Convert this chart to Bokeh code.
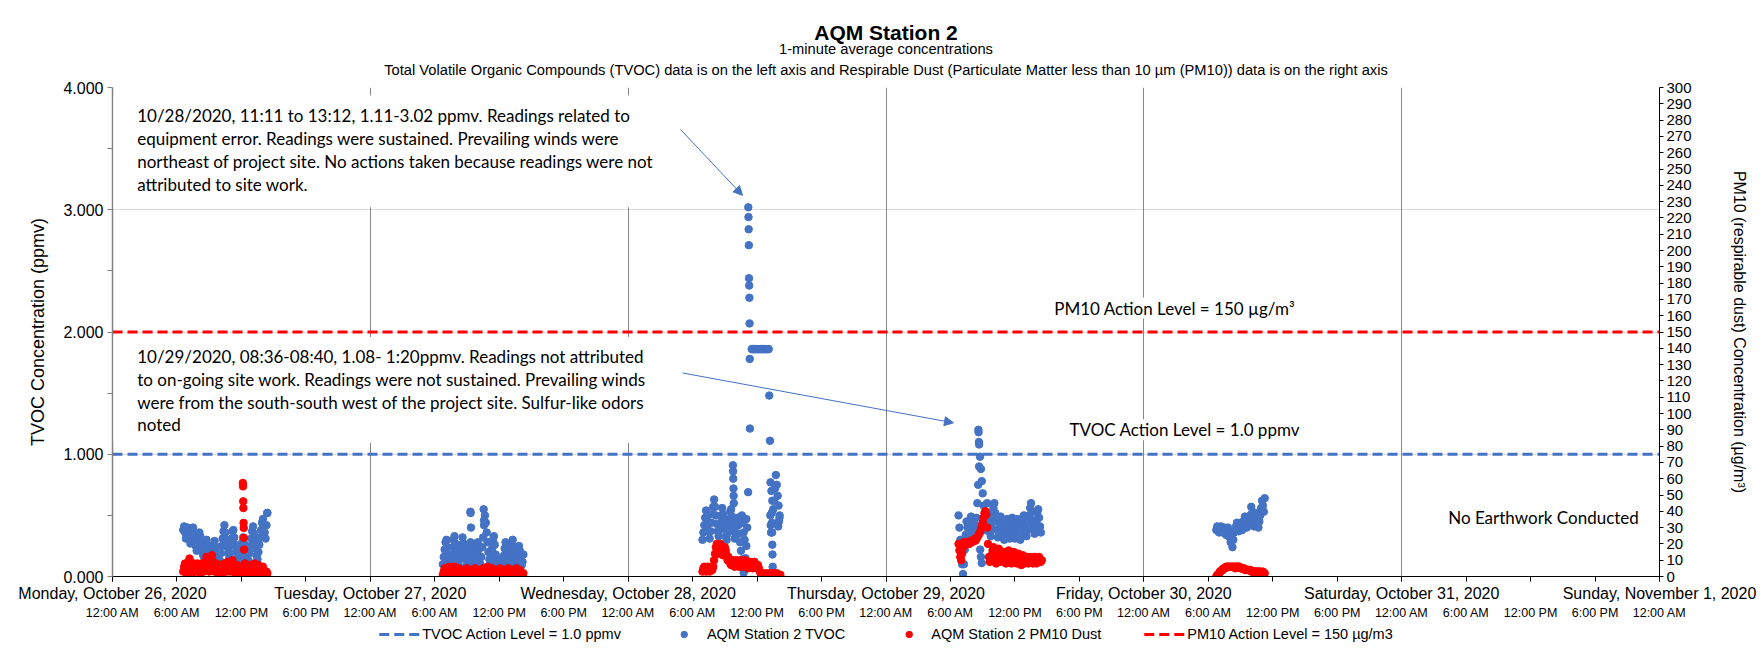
import pandas as pd
from bokeh.plotting import figure
from bokeh.layouts import column
from bokeh.models import (Range1d, LinearAxis, FixedTicker, NumeralTickFormatter, Label, Arrow,
                          NormalHead, Legend, LegendItem, Title, BoxAnnotation, Grid, ColumnDataSource)
from bokeh.embed import file_html
from bokeh.resources import INLINE

# ------------------------------------------------------------------ data
day_labels = ["Monday, October 26, 2020", "Tuesday, October 27, 2020", "Wednesday, October 28, 2020",
              "Thursday, October 29, 2020", "Friday, October 30, 2020", "Saturday, October 31, 2020",
              "Sunday, November 1, 2020"]
hour_labels = ["12:00 AM", "6:00 AM", "12:00 PM", "6:00 PM"]

tvoc_action = 1.0
pm10_action = 150

# 5-minute readings (start time, values)
mon_tvoc_start = "2020-10-26 06:35"
mon_tvoc = [0.38, 0.41, 0.36, 0.31, 0.35, 0.40, 0.36, 0.31, 0.27, 0.32, 0.37, 0.40,
            0.35, 0.30, 0.25, 0.21, 0.26, 0.31, 0.36, 0.33, 0.28, 0.23, 0.18, 0.16,
            0.20, 0.25, 0.30, 0.26, 0.21, 0.16, 0.12, 0.10, 0.15, 0.20, 0.25, 0.29,
            0.24, 0.19, 0.14, 0.09, 0.08, 0.13, 0.19, 0.25, 0.31, 0.37, 0.42, 0.36,
            0.30, 0.24, 0.19, 0.14, 0.19, 0.25, 0.31, 0.37, 0.38, 0.32, 0.26, 0.20,
            0.15, 0.10, 0.08, 0.13, 0.18, 0.23, 0.28, 0.32, 0.27, 0.21, 0.15, 0.10,
            0.08, 0.13, 0.19, 0.25, 0.31, 0.37, 0.41, 0.35, 0.29, 0.23, 0.17, 0.14,
            0.20, 0.26, 0.32, 0.38, 0.44, 0.47, 0.42, 0.36, 0.31, 0.42, 0.52]
mon_pm10_start = "2020-10-26 06:35"
mon_pm10 = [3, 6, 8, 5, 2, 5, 8, 11, 7, 4, 2, 5, 8, 6, 3, 5, 8, 6, 3, 2, 5, 8, 5, 3,
            6, 9, 12, 9, 5, 3, 7, 11, 13, 9, 5, 3, 5, 8, 5, 2, 4, 7, 5, 3, 2, 5, 8, 6,
            3, 6, 9, 6, 3, 5, 8, 10, 7, 4, 2, 4, 7, 5, 2, 1, 3, 6, 4, 2, 5, 8, 6, 3,
            1, 4, 7, 5, 2, 1, 3, 6, 8, 5, 2, 4, 7, 5, 2, 1, 3, 6, 4, 2, 1, 3, 2]

tue_tvoc_start = "2020-10-27 06:45"
tue_tvoc = [0.10, 0.16, 0.22, 0.28, 0.30, 0.24, 0.18, 0.12, 0.07, 0.12, 0.18, 0.24,
            0.30, 0.33, 0.27, 0.21, 0.15, 0.09, 0.08, 0.14, 0.20, 0.26, 0.32, 0.27,
            0.21, 0.15, 0.09, 0.08, 0.14, 0.20, 0.26, 0.28, 0.22, 0.16, 0.10, 0.08,
            0.13, 0.19, 0.25, 0.28, 0.22, 0.16, 0.10, 0.16, 0.24, 0.32, 0.42, 0.50,
            0.44, 0.36, 0.28, 0.20, 0.14, 0.10, 0.16, 0.23, 0.30, 0.33, 0.26, 0.18,
            0.12, 0.08, 0.06, 0.10, 0.14, 0.09, 0.06, 0.11, 0.17, 0.23, 0.28, 0.22,
            0.16, 0.10, 0.08, 0.14, 0.20, 0.26, 0.30, 0.24, 0.18, 0.12, 0.08, 0.13,
            0.19, 0.25, 0.21, 0.15, 0.09, 0.12, 0.18]
tue_pm10_start = "2020-10-27 06:45"
tue_pm10 = [1, 3, 5, 3, 1, 3, 5, 6, 4, 2, 0, 2, 4, 6, 4, 2, 1, 3, 5, 3, 1, 0, 2, 4,
            2, 1, 3, 5, 3, 1, 0, 2, 4, 2, 1, 3, 5, 3, 1, 2, 4, 2, 0, 2, 4, 5, 3, 1,
            2, 4, 6, 4, 2, 1, 3, 5, 3, 1, 0, 2, 4, 2, 1, 3, 5, 3, 1, 0, 2, 4, 2, 1,
            3, 5, 3, 1, 2, 4, 2, 0, 1, 3, 5, 3, 1, 2, 4, 2, 1, 0, 2]

wed_tvoc_start = "2020-10-28 06:55"
wed_tvoc = [0.30, 0.36, 0.42, 0.48, 0.54, 0.49, 0.43, 0.37, 0.31, 0.37, 0.44, 0.51,
            0.57, 0.63, 0.57, 0.50, 0.43, 0.37, 0.33, 0.38, 0.44, 0.50, 0.56, 0.51,
            0.45, 0.39, 0.33, 0.30, 0.35, 0.41, 0.47, 0.53, 0.55, 0.49, 0.43, 0.37,
            0.31, 0.36, 0.42, 0.48, 0.42, 0.35, 0.28, 0.21, 0.14, 0.08, 0.03, 0.08,
            0.15, 0.25, 0.40]
wed_flat_start = "2020-10-28 11:30"
wed_flat = [1.86, 1.86, 1.86, 1.86, 1.86, 1.86, 1.86, 1.86, 1.86, 1.86,
            1.86, 1.86, 1.86, 1.86, 1.86, 1.86, 1.86, 1.86, 1.86, 1.86]
wed2_tvoc_start = "2020-10-28 13:15"
wed2_tvoc = [0.77, 0.70, 0.62, 0.55, 0.62, 0.72, 0.83, 0.75, 0.66, 0.58, 0.48]
wed_pm10_start = "2020-10-28 06:55"
wed_pm10 = [3, 5, 6, 4, 3, 5, 6, 4, 3, 5, 6, 4, 6, 10, 14, 18, 20, 17,
            14, 17, 20, 19, 16, 13, 15, 18, 16, 13, 10, 12, 10, 8, 7, 9, 10, 8,
            6, 8, 10, 9, 7, 6, 8, 10, 8, 6, 7, 9, 10, 8, 6, 5, 7, 9,
            8, 6, 5, 7, 9, 8, 6, 5, 7, 5, 3, 2, 1, 2, 1, 0, 1, 2,
            1, 0, 1, 2, 1, 0, 1, 2, 1, 0, 1, 2, 1, 0, 1, 1]

thu_tvoc_start = "2020-10-29 06:45"
thu_tvoc = [0.50, 0.40, 0.30, 0.20, 0.10, 0.02, 0.10, 0.22, 0.34, 0.45, 0.40, 0.34,
            0.38, 0.44, 0.49, 0.43, 0.37, 0.32, 0.36, 0.42, 0.48, 0.60, 0.75, 0.90,
            0.98, 0.88, 0.78, 0.68, 0.58, 0.48, 0.38, 0.45, 0.60, 0.52, 0.44, 0.36,
            0.33, 0.40, 0.48, 0.56, 0.60, 0.52, 0.45, 0.38, 0.32, 0.37, 0.43, 0.49,
            0.44, 0.38, 0.32, 0.30, 0.35, 0.41, 0.47, 0.42, 0.36, 0.31, 0.36, 0.42,
            0.48, 0.43, 0.37, 0.31, 0.35, 0.41, 0.47, 0.42, 0.36, 0.30, 0.35, 0.40,
            0.46, 0.50, 0.44, 0.38, 0.33, 0.38, 0.44, 0.50, 0.56, 0.60, 0.53, 0.46,
            0.40, 0.35, 0.40, 0.46, 0.52, 0.55, 0.48, 0.41, 0.36]
thu_pm10_start = "2020-10-29 06:45"
thu_pm10 = [20, 16, 12, 10, 14, 18, 21, 19, 20, 21, 20, 21, 20, 21, 22, 21, 22, 22,
            23, 22, 23, 24, 25, 26, 27, 29, 31, 33, 36, 39, 40, 38, 30, 20, 12, 9,
            10, 13, 16, 18, 15, 11, 8, 11, 14, 17, 14, 11, 9, 12, 15, 13, 10, 8,
            11, 14, 16, 13, 10, 8, 10, 13, 15, 12, 9, 8, 11, 14, 12, 9, 7, 10,
            13, 11, 8, 10, 12, 10, 8, 10, 12, 11, 9, 8, 10, 12, 10, 8, 9, 11,
            12, 10, 9, 10]

fri_tvoc_start = "2020-10-30 06:45"
fri_tvoc = [0.38, 0.41, 0.38, 0.36, 0.39, 0.41, 0.38, 0.36, 0.39, 0.40, 0.37, 0.34,
            0.37, 0.40, 0.36, 0.32, 0.28, 0.30, 0.24, 0.30, 0.36, 0.38, 0.41, 0.44,
            0.40, 0.37, 0.41, 0.44, 0.40, 0.38, 0.42, 0.46, 0.49, 0.44, 0.40, 0.45,
            0.49, 0.44, 0.50, 0.57, 0.52, 0.46, 0.41, 0.46, 0.52, 0.48, 0.43, 0.40,
            0.45, 0.50, 0.56, 0.62, 0.58, 0.53, 0.64]
fri_pm10_start = "2020-10-30 06:45"
fri_pm10 = [0, 1, 1, 2, 3, 3, 4, 4, 5, 5, 5, 6, 6, 6, 6, 6, 6, 6, 6, 6, 6, 5, 6, 6,
            6, 6, 6, 5, 5, 5, 5, 5, 4, 4, 4, 4, 4, 4, 4, 3, 3, 3, 3, 3, 3, 3, 2, 3,
            3, 3, 2, 2, 3, 2, 2]

# individual one-minute readings (spikes, columns)
tvoc_extra_time = ["2020-10-26 14:24", "2020-10-27 09:19", "2020-10-27 09:20", "2020-10-27 09:22",
                   "2020-10-27 10:33", "2020-10-27 10:35",
                   "2020-10-28 09:45", "2020-10-28 09:46", "2020-10-28 09:47", "2020-10-28 09:48",
                   "2020-10-28 09:49", "2020-10-28 09:50", "2020-10-28 10:35", "2020-10-28 10:40",
                   "2020-10-28 10:45", "2020-10-28 10:50", "2020-10-28 11:00", "2020-10-28 11:10",
                   "2020-10-28 11:11", "2020-10-28 11:12", "2020-10-28 11:13", "2020-10-28 11:14",
                   "2020-10-28 11:15", "2020-10-28 11:16", "2020-10-28 11:17", "2020-10-28 11:18",
                   "2020-10-28 11:19", "2020-10-28 11:20", "2020-10-28 13:08", "2020-10-28 13:12",
                   "2020-10-28 13:14", "2020-10-28 13:16", "2020-10-28 13:18",
                   "2020-10-28 13:22", "2020-10-28 13:23", "2020-10-28 13:24", "2020-10-28 13:25",
                   "2020-10-28 13:26", "2020-10-28 13:27", "2020-10-28 13:28",
                   "2020-10-28 13:58", "2020-10-28 14:02", "2020-10-28 14:06",
                   "2020-10-29 08:36", "2020-10-29 08:37", "2020-10-29 08:39", "2020-10-29 08:40",
                   "2020-10-29 08:46", "2020-10-29 08:50", "2020-10-29 08:55"]
tvoc_extra = [0.52, 0.53, 0.52, 0.40, 0.55, 0.46,
              0.91, 0.86, 0.80, 0.72, 0.66, 0.60, 0.50, 0.44, 0.36, 0.30, 0.47, 0.69,
              3.02, 2.94, 2.84, 2.71, 2.44, 2.38, 2.28, 2.07, 1.78, 1.21, 1.48, 1.11,
              0.50, 0.42, 0.36, 0.52, 0.44, 0.36, 0.26, 0.18, 0.08, 0.00,
              0.41, 0.45, 0.50,
              1.20, 1.18, 1.10, 1.08, 0.22, 0.16, 0.11]
pm10_extra_time = ["2020-10-26 12:08", "2020-10-26 12:09", "2020-10-26 12:10", "2020-10-26 12:11",
                   "2020-10-26 12:12", "2020-10-26 12:13", "2020-10-26 12:14", "2020-10-26 12:15"]
pm10_extra = [57.4, 55.3, 46.1, 42.0, 32.9, 29.8, 23.7, 16.5]

# ------------------------------------------------------------------ helpers
T0 = pd.Timestamp("2020-10-26 00:00")


def hrs(times):
    return list((pd.to_datetime(times) - T0) / pd.Timedelta(hours=1))


def seg(start, vals):
    t = pd.date_range(start, periods=len(vals), freq="5min")
    return hrs(t), list(vals)


tx, ty = [], []
for s, v in [(mon_tvoc_start, mon_tvoc), (tue_tvoc_start, tue_tvoc), (wed_tvoc_start, wed_tvoc),
             (wed_flat_start, wed_flat), (wed2_tvoc_start, wed2_tvoc), (thu_tvoc_start, thu_tvoc),
             (fri_tvoc_start, fri_tvoc)]:
    a, b = seg(s, v)
    tx += a
    ty += b
tx += hrs(tvoc_extra_time)
ty += tvoc_extra

px, py = [], []
for s, v in [(mon_pm10_start, mon_pm10), (tue_pm10_start, tue_pm10), (wed_pm10_start, wed_pm10),
             (thu_pm10_start, thu_pm10), (fri_pm10_start, fri_pm10)]:
    a, b = seg(s, v)
    px += a
    py += b
px += hrs(pm10_extra_time)
py += pm10_extra

tvoc_src = ColumnDataSource(dict(x=tx, y=ty))
pm_src = ColumnDataSource(dict(x=px, y=py))

# ------------------------------------------------------------------ figure
BLUE = "#4472C4"
RED = "#FF0000"
AX = "Liberation Sans"
NOTE = "Lato"
TXT = "#000000"
X0, X1 = 0, 144
DASH = "10 5"

p = figure(width=1762, height=622, x_range=Range1d(X0, X1), y_range=Range1d(0, 4),
           output_backend="svg", toolbar_location=None, x_axis_type=None, y_axis_type=None,
           title=None, min_border_left=112, min_border_right=103, min_border_top=87,
           min_border_bottom=45)
p.extra_y_ranges = {"pm": Range1d(0, 300)}
p.outline_line_color = None
p.background_fill_color = "white"
p.border_fill_color = "white"

day_ticks = list(range(0, 145, 24))
six_ticks = list(range(0, 145, 6))

p.add_layout(Grid(dimension=1, ticker=FixedTicker(ticks=[1, 2, 3, 4]), grid_line_color="#d9d9d9"))
p.add_layout(Grid(dimension=0, ticker=FixedTicker(ticks=day_ticks[1:-1]), grid_line_color="#868686"))

# left axis
yl = LinearAxis(ticker=FixedTicker(ticks=[0, 1, 2, 3, 4], minor_ticks=[0.5, 1.5, 2.5, 3.5]),
                formatter=NumeralTickFormatter(format="0.000"), axis_label="TVOC Concentration (ppmv)")
# right axis
yr = LinearAxis(y_range_name="pm", ticker=FixedTicker(ticks=list(range(0, 301, 10))),
                axis_label="PM10 (respirable dust) Concentration (\u00b5g/m\u00b3)")
# bottom axes
xd = LinearAxis(ticker=FixedTicker(ticks=day_ticks, minor_ticks=six_ticks),
                major_label_overrides={t: day_labels[i] for i, t in enumerate(day_ticks)})
xh = LinearAxis(ticker=FixedTicker(ticks=six_ticks),
                major_label_overrides={t: hour_labels[i % 4] for i, t in enumerate(six_ticks)})

for ax in (yl, yr, xd, xh):
    ax.major_label_text_font = AX
    ax.major_label_text_color = TXT
    ax.axis_label_text_font = AX
    ax.axis_label_text_font_style = "normal"
    ax.axis_label_text_color = TXT
    ax.major_tick_in = 0
    ax.minor_tick_in = 0

yl.major_label_text_font_size = "16px"
yl.axis_label_text_font_size = "18px"
yl.axis_line_color = "#808080"
yl.axis_line_width = 1.5
yl.major_tick_line_color = "#808080"
yl.minor_tick_line_color = "#808080"
yl.major_tick_out = 5
yl.minor_tick_out = 5
yl.major_label_standoff = 4
yl.axis_label_standoff = 12

yr.major_label_text_font_size = "15px"
yr.axis_label_text_font_size = "16px"
yr.axis_line_color = "#000000"
yr.major_tick_line_color = "#000000"
yr.major_tick_out = 4
yr.minor_tick_line_color = None
yr.major_label_standoff = 3
yr.axis_label_standoff = 36

xd.major_label_text_font_size = "16px"
xd.axis_line_color = "#000000"
xd.major_tick_line_color = "#000000"
xd.minor_tick_line_color = "#000000"
xd.major_tick_out = 5
xd.minor_tick_out = 5
xd.major_label_standoff = 3

xh.major_label_text_font_size = "12.5px"
xh.axis_line_color = None
xh.major_tick_line_color = None
xh.minor_tick_line_color = None
xh.major_tick_out = 0
xh.minor_tick_out = 0
xh.major_label_standoff = 1

p.add_layout(yl, "left")
p.add_layout(yr, "right")
p.add_layout(xd, "below")
p.add_layout(xh, "below")

# annotation boxes (white, hide gridlines)
p.add_layout(BoxAnnotation(left=0.1, right=53.8, top=3.935, bottom=3.02, fill_color="white",
                           fill_alpha=1, line_color=None))
p.add_layout(BoxAnnotation(left=0.1, right=53.8, top=1.959, bottom=1.094, fill_color="white",
                           fill_alpha=1, line_color=None))

# series
r_tl = p.line(x=[X0, X1], y=[tvoc_action, tvoc_action], line_color=BLUE, line_width=3, line_dash=DASH)
r_tv = p.scatter("x", "y", source=tvoc_src, size=7.5, color=BLUE)
r_pm = p.scatter("x", "y", source=pm_src, size=7.5, color=RED, y_range_name="pm")
r_pl = p.line(x=[X0, X1], y=[pm10_action, pm10_action], line_color=RED, line_width=3,
              line_dash=DASH, y_range_name="pm")

# notes
ann1 = ["10/28/2020, 11:11 to 13:12, 1.11-3.02 ppmv. Readings related to",
        "equipment error. Readings were sustained. Prevailing winds were",
        "northeast of project site. No actions taken because readings were not",
        "attributed to site work."]
ann2 = ["10/29/2020, 08:36-08:40, 1.08- 1:20ppmv.  Readings not attributed",
        "to on-going site work.  Readings were not sustained. Prevailing winds",
        "were from the south-south west of the project site. Sulfur-like odors",
        "noted"]
for i, line in enumerate(ann1):
    p.add_layout(Label(x=2.3, y=3.771 - i * 0.1878, text=line, text_font=NOTE, text_font_size="17px",
                       text_baseline="middle", text_color=TXT))
for i, line in enumerate(ann2):
    p.add_layout(Label(x=2.3, y=1.796 - i * 0.1845, text=line, text_font=NOTE, text_font_size="17px",
                       text_baseline="middle", text_color=TXT))

p.add_layout(Label(x=110.1, y=2.196, text="PM10 Action Level = 150 \u00b5g/m\u00b3", text_font=NOTE,
                   text_font_size="17px", text_align="right", text_baseline="middle", text_color=TXT,
                   background_fill_color="white"))
p.add_layout(Label(x=89.08, y=1.2, text="TVOC Action Level = 1.0 ppmv", text_font=NOTE,
                   text_font_size="17px", text_baseline="middle", text_color=TXT,
                   background_fill_color="white"))
p.add_layout(Label(x=124.33, y=0.484, text="No Earthwork Conducted", text_font=NOTE,
                   text_font_size="17px", text_baseline="middle", text_color=TXT))

p.add_layout(Arrow(end=NormalHead(size=9, fill_color=BLUE, line_color=BLUE), x_start=52.87, y_start=3.657,
                   x_end=58.64, y_end=3.118, line_color=BLUE, line_width=1))
p.add_layout(Arrow(end=NormalHead(size=9, fill_color=BLUE, line_color=BLUE), x_start=53.06, y_start=1.665,
                   x_end=78.28, y_end=1.257, line_color=BLUE, line_width=1))

# titles (added inner-most first)
p.add_layout(Title(text="Total Volatile Organic Compounds (TVOC) data is on the left axis and Respirable Dust "
                        "(Particulate Matter less than 10 \u00b5m (PM10)) data is on the right axis",
                   align="center", text_font=AX, text_font_size="14.7px", text_font_style="normal",
                   text_color=TXT, standoff=19), "above")
p.add_layout(Title(text="1-minute average concentrations", align="center", text_font=AX,
                   text_font_size="14.7px", text_font_style="normal", text_color=TXT, standoff=-13.5), "above")
p.add_layout(Title(text="AQM Station 2", align="center", text_font=AX, text_font_size="21px",
                   text_font_style="bold", text_color=TXT, standoff=4), "above")

# legend strip below the chart (legend proxies sit outside the strip's visible range)
legend_proxy_x = [5.0]
legend_proxy_y = [5.0]
q = figure(width=1762, height=24, x_range=Range1d(0, 1), y_range=Range1d(0, 1), output_backend="svg",
           toolbar_location=None, x_axis_type=None, y_axis_type=None, title=None, min_border=0)
q.outline_line_color = None
q.background_fill_color = "white"
q.border_fill_color = "white"
g1 = q.line(x=legend_proxy_x, y=legend_proxy_y, line_color=BLUE, line_width=3, line_dash=DASH)
g2 = q.scatter(x=legend_proxy_x, y=legend_proxy_y, size=9, color=BLUE)
g3 = q.scatter(x=legend_proxy_x, y=legend_proxy_y, size=9, color=RED)
g4 = q.line(x=legend_proxy_x, y=legend_proxy_y, line_color=RED, line_width=3, line_dash=DASH)
legend = Legend(items=[LegendItem(label="TVOC Action Level = 1.0 ppmv", renderers=[g1]),
                       LegendItem(label="AQM Station 2 TVOC", renderers=[g2]),
                       LegendItem(label="AQM Station 2 PM10 Dust", renderers=[g3]),
                       LegendItem(label="PM10 Action Level = 150 \u00b5g/m3", renderers=[g4])],
                orientation="horizontal", location="center", border_line_color=None,
                background_fill_alpha=0, label_text_font=AX, label_text_font_size="14.5px",
                label_text_color=TXT, glyph_width=42, glyph_height=16, label_height=16,
                label_standoff=2, spacing=42, padding=0, margin=0)
q.add_layout(legend, "center")

open("out.html", "w").write(file_html(column(p, q, spacing=0), INLINE))
